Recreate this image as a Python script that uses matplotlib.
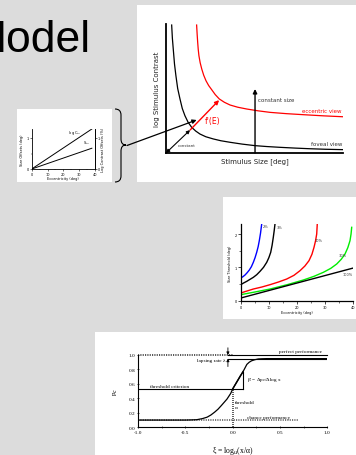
import numpy as np
import matplotlib
matplotlib.use("Agg")
import matplotlib.pyplot as plt
from matplotlib.patches import Rectangle, PathPatch
from matplotlib.path import Path

W, H = 356, 456

# --- top panel: contrast vs size ---
fov_size = [0.32, 0.36, 0.41, 0.48, 0.56, 0.66, 0.79, 0.92, 1.07, 1.25, 1.45,
            1.68, 1.92, 2.25, 2.67, 3.1, 3.62, 4.3, 5.03, 5.7, 6.44, 7.3,
            8.14, 9.0, 10.0]
fov_con = [9.92, 8.9, 8.06, 6.9, 5.99, 5.0, 4.19, 3.45, 2.89, 2.38, 1.99,
           1.7, 1.47, 1.26, 1.09, 0.95, 0.83, 0.69, 0.57, 0.5, 0.44, 0.38,
           0.33, 0.29, 0.26]
ecc_size = [1.73, 1.76, 1.79, 1.82, 1.86, 1.93, 2.02, 2.13, 2.26, 2.41, 2.58,
            2.78, 3.01, 3.3, 3.62, 4.05, 4.56, 5.2, 5.88, 6.8, 7.76, 8.9, 10.0]
ecc_con = [9.92, 9.2, 8.58, 8.05, 7.54, 7.0, 6.51, 6.03, 5.60, 5.23, 4.91,
           4.53, 4.19, 3.93, 3.72, 3.55, 3.41, 3.27, 3.15, 3.05, 2.97, 2.88,
           2.81]

# --- inset: offsets vs eccentricity ---
inset_ecc = [0, 38]
log_cth = [0, 1.29]
s_th = [0, 0.67]

# --- middle panel: size threshold vs eccentricity ---
thr_labels = ["2%", "3%", "10%", "30%", "100%"]
thr_colors = ["#0000ff", "black", "#ff0000", "#00ee00", "black"]
thr_ecc = [
    [0, 0.8, 1.53, 2.3, 3.06, 3.8, 4.48, 5.1, 5.68, 6.2, 6.61, 7.05, 7.46],
    [0, 1.0, 2.13, 3.3, 4.48, 5.7, 6.86, 8.1, 9.24, 10.0, 10.66, 11.15,
     11.58, 11.9, 12.18],
    [0, 2.2, 4.48, 7.5, 10.41, 13.4, 16.34, 18.9, 21.07, 22.8, 24.26, 25.3,
     26.04, 26.6, 27.0, 27.2],
    [0, 5, 10.41, 16.5, 22.24, 26.0, 29.34, 32.0, 34.1, 35.7, 37.05, 38.05,
     38.83, 39.2, 39.43],
    [0, 40],
]
thr_val = [
    [0.68, 0.72, 0.77, 0.84, 0.92, 1.02, 1.15, 1.29, 1.45, 1.62, 1.80, 2.03,
     2.30],
    [0.48, 0.53, 0.58, 0.64, 0.70, 0.78, 0.88, 1.0, 1.15, 1.29, 1.45, 1.66,
     1.90, 2.1, 2.30],
    [0.23, 0.29, 0.35, 0.41, 0.48, 0.56, 0.65, 0.76, 0.90, 1.04, 1.20, 1.39,
     1.60, 1.80, 2.0, 2.3],
    [0.18, 0.26, 0.35, 0.48, 0.62, 0.73, 0.85, 0.97, 1.10, 1.24, 1.40, 1.59,
     1.80, 2.0, 2.20],
    [0.08, 0.98],
]
thr_label_pos = [(8.0, 2.2), (12.8, 2.17), (26.4, 1.8), (34.7, 1.35), (36.3, 0.78)]

# --- bottom panel: psychometric function ---
xi = [-1.0, -0.75, -0.5, -0.44, -0.38, -0.32, -0.27, -0.23, -0.19, -0.155,
      -0.12, -0.09, -0.06, -0.04, -0.02, 0.0, 0.02, 0.04, 0.06, 0.08, 0.11,
      0.13, 0.15, 0.175, 0.20, 0.235, 0.27, 0.31, 0.36, 1.0]
pc = [0.1, 0.1, 0.1, 0.102, 0.105, 0.12, 0.14, 0.17, 0.21, 0.25,
      0.30, 0.345, 0.39, 0.43, 0.47, 0.53, 0.575, 0.62, 0.665, 0.71, 0.77,
      0.82, 0.87, 0.90, 0.92, 0.935, 0.945, 0.948, 0.95, 0.95]
chance = 0.1
criterion = 0.53
lapse_level = 0.95
slope_x = 0.11
slope_top = 0.77


def box(l, t, r, b):
    return [l / W, 1 - b / H, (r - l) / W, (b - t) / H]


def fpt(x, y):
    return (x / W, 1 - y / H)


fig = plt.figure(figsize=(W / 100, H / 100), dpi=100, facecolor="#dcdcdc")

# white panels
for l, t, r, b in [(137, 6, 356, 183), (17, 110, 112, 183),
                   (223, 198, 356, 320), (95, 333, 356, 456)]:
    fig.add_artist(Rectangle(fpt(l, b), (r - l) / W, (b - t) / H,
                             transform=fig.transFigure, facecolor="white",
                             edgecolor="none", zorder=0))

fig.text(-31 / W, 1 - 52 / H, "Model", fontsize=32, family="Liberation Sans",
         va="baseline", ha="left")

# ---------------- top main panel ----------------
sans = "DejaVu Sans"
ax = fig.add_axes(box(166, 25, 343, 154))
ax.set_xlim(0, 10)
ax.set_ylim(0, 10)
ax.patch.set_alpha(0)
for s in ["top", "right"]:
    ax.spines[s].set_visible(False)
for s in ["left", "bottom"]:
    ax.spines[s].set_linewidth(1.3)
ax.set_xticks([])
ax.set_yticks([])
ax.plot(fov_size, fov_con, color="black", lw=0.9)
ax.plot(ecc_size, ecc_con, color="red", lw=0.9)
ax.annotate("", xy=(1.36, 1.78), xytext=(0, 0),
            arrowprops=dict(arrowstyle="<|-|>", color="black", lw=0.8,
                            mutation_scale=5, shrinkA=0, shrinkB=0))
ax.annotate("", xy=(3.0, 4.1), xytext=(1.36, 1.78),
            arrowprops=dict(arrowstyle="-|>", color="red", lw=1.0,
                            mutation_scale=6, shrinkA=0, shrinkB=0))
ax.annotate("", xy=(5.03, 4.96), xytext=(5.03, 0),
            arrowprops=dict(arrowstyle="-|>", color="black", lw=1.0,
                            mutation_scale=6, shrinkA=0, shrinkB=0))
ax.annotate("", xy=(1.73, 2.56), xycoords="data",
            xytext=fpt(127, 146.5), textcoords="figure fraction",
            arrowprops=dict(arrowstyle="-|>", color="black", lw=0.9,
                            mutation_scale=6, shrinkA=0, shrinkB=0),
            annotation_clip=False)
ax.text(0.68, 0.62, "constant", fontsize=3, family=sans, color="#333333",
        va="center")
ax.text(2.2, 2.5, "f'(E)", fontsize=5.5, family=sans, color="red", va="center")
ax.text(5.2, 4.13, "constant size", fontsize=4, family=sans, color="#333333",
        va="center")
ax.text(9.94, 3.26, "eccentric view", fontsize=4, family=sans, color="red",
        va="center", ha="right")
ax.text(9.94, 0.7, "foveal view", fontsize=4, family=sans, color="#333333",
        va="center", ha="right")
ax.set_xlabel("Stimulus Size [deg]", fontsize=5, family=sans, labelpad=3,
              color="#222222")
ax.set_ylabel("log Stimulus Contrast", fontsize=5, family=sans, labelpad=4,
              color="#222222")

# brace
bx = [(115, 110), (121, 110), (121, 116), (121, 140), (121, 146), (126, 146),
      (121, 146), (121, 152), (121, 177), (121, 183), (115, 183)]
codes = [Path.MOVETO, Path.CURVE3, Path.CURVE3, Path.LINETO, Path.CURVE3,
         Path.CURVE3, Path.CURVE3, Path.CURVE3, Path.LINETO, Path.CURVE3,
         Path.CURVE3]
fig.add_artist(PathPatch(Path([fpt(*p) for p in bx], codes),
                         transform=fig.transFigure, facecolor="none",
                         edgecolor="black", lw=0.8))

# ---------------- inset ----------------
tiny = 2.5
axi = fig.add_axes(box(31.7, 129.7, 95, 170))
axi.set_xlim(0, 40)
axi.set_ylim(0, 1.3)
axi.spines["top"].set_visible(False)
for s in ["left", "bottom", "right"]:
    axi.spines[s].set_linewidth(0.6)
axi.plot(inset_ecc, log_cth, color="black", lw=0.7)
axi.plot(inset_ecc, s_th, color="black", lw=0.7)
axi.text(22.9, 1.16, "log C$_{th}$", fontsize=tiny, family=sans)
axi.text(32.4, 0.82, "S$_{th}$", fontsize=tiny, family=sans)
axi.set_xticks([0, 10, 20, 30, 40])
axi.set_xticks([5, 15, 25, 35], minor=True)
axi.set_yticks([0, 1])
axi.set_yticks([0.5], minor=True)
axi.tick_params(labelsize=tiny, length=1.5, width=0.4, pad=0.5)
axi.tick_params(which="minor", length=1, width=0.3)
axi.set_xlabel("Eccentricity (deg)", fontsize=tiny, labelpad=0.5)
axi.set_ylabel("Size Offsets (deg)", fontsize=tiny, labelpad=1)
axr = axi.twinx()
axr.set_ylim(0, 1.3)
axr.set_yticks([0, 1])
axr.tick_params(labelsize=tiny, length=1.5, width=0.4, pad=0.5)
for s in ["top", "left", "bottom"]:
    axr.spines[s].set_visible(False)
axr.spines["right"].set_linewidth(0.6)
axr.set_ylabel("Log Contrast Offsets (%)", fontsize=tiny, labelpad=1)

# ---------------- middle panel ----------------
axm = fig.add_axes(box(240.7, 225, 353.3, 301.7))
axm.set_xlim(0, 40)
axm.set_ylim(0, 2.3)
for s in ["top", "right"]:
    axm.spines[s].set_visible(False)
for s in ["left", "bottom"]:
    axm.spines[s].set_linewidth(0.9)
for e, v, c, lab, pos in zip(thr_ecc, thr_val, thr_colors, thr_labels,
                             thr_label_pos):
    axm.plot(e, v, color=c, lw=1.0)
    axm.text(pos[0], pos[1], lab, fontsize=tiny, family=sans, color="#333333")
axm.set_xticks([0, 10, 20, 30, 40])
axm.set_xticks([5, 15, 25, 35], minor=True)
axm.set_yticks([0, 1, 2])
axm.set_yticks([0.5, 1.5], minor=True)
axm.tick_params(labelsize=tiny, length=2, width=0.5, pad=1)
axm.tick_params(which="minor", length=1.2, width=0.4)
axm.set_xlabel("Eccentricity (deg)", fontsize=tiny, labelpad=1)
axm.set_ylabel("Size Threshold (deg)", fontsize=tiny, labelpad=2)

# ---------------- bottom panel ----------------
serif = "Liberation Serif"
fs = 3.8
axb = fig.add_axes(box(138, 356, 327.3, 428.3))
axb.set_xlim(-1.0, 1.0)
axb.set_ylim(0, 1.0)
for s in ["top", "right"]:
    axb.spines[s].set_visible(False)
for s in ["left", "bottom"]:
    axb.spines[s].set_linewidth(0.8)
axb.set_xticks([-1.0, -0.5, 0.0, 0.5, 1.0])
axb.set_xticks([-0.75, -0.25, 0.25, 0.75], minor=True)
axb.set_yticks([0.0, 0.2, 0.4, 0.6, 0.8, 1.0])
axb.set_xticklabels(["-1.0", "-0.5", "0.0", "0.5", "1.0"])
axb.tick_params(labelsize=fs, length=2, width=0.5, pad=1, direction="inout")
axb.tick_params(which="minor", length=1.5, width=0.4, direction="inout")
for lab in axb.get_xticklabels() + axb.get_yticklabels():
    lab.set_family(serif)

# reference lines
axb.plot([-1.0, 0.0], [1.0, 1.0], color="#555555", lw=1.4, ls=(0, (0.6, 0.6)),
         clip_on=False)
axb.plot([-0.05, 1.0], [1.0, 1.0], color="black", lw=0.8, clip_on=False)
axb.plot([-1.0, 0.7], [chance, chance], color="#777777", lw=1.4,
         ls=(0, (0.6, 0.6)))
axb.plot([-1.0, slope_x], [criterion, criterion], color="black", lw=0.8)
axb.plot([slope_x, slope_x], [criterion, slope_top], color="black", lw=0.8)
axb.plot([0.0, slope_x], [criterion, slope_top], color="black", lw=1.0)
axb.plot([0.0, 0.0], [0.0, criterion], color="#444444", lw=1.2,
         ls=(0, (0.6, 0.6)))
axb.plot([-0.05, 1.0], [lapse_level, lapse_level], color="black", lw=0.8)
axb.plot(xi, pc, color="black", lw=0.9)

axb.annotate("", xy=(-0.05, 1.0), xytext=(-0.05, 1.1),
             arrowprops=dict(arrowstyle="-|>", color="black", lw=0.6,
                             mutation_scale=4, shrinkA=0, shrinkB=0),
             annotation_clip=False)
axb.annotate("", xy=(-0.05, lapse_level), xytext=(-0.05, 0.84),
             arrowprops=dict(arrowstyle="-|>", color="black", lw=0.6,
                             mutation_scale=4, shrinkA=0, shrinkB=0),
             annotation_clip=False)

axb.text(-0.08, 0.935, "lapsing rate \u03bb", fontsize=fs, family=serif,
         ha="right", va="center")
axb.text(0.94, 1.06, "perfect performance", fontsize=fs, family=serif,
         ha="right", va="center")
axb.text(-0.87, 0.57, "threshold criterion", fontsize=fs, family=serif,
         va="center")
axb.text(0.15, 0.67, "\u03b2' = \u0394p$_c$/\u0394log x", fontsize=fs,
         family=serif, va="center")
axb.text(0.02, 0.31, "threshold\n\u03b1", fontsize=fs, family=serif,
         va="center", linespacing=1.3)
axb.text(0.15, 0.14, "chance performancy", fontsize=fs, family=serif,
         va="center")
axb.set_ylabel("p$_c$", fontsize=5, family=serif)
axb.yaxis.set_label_coords(-0.095, 0.5)
axb.set_xlabel("\u03be = log$_u$(x/\u03b1)", fontsize=5.5, family=serif)
axb.xaxis.set_label_coords(0.5, -0.23)

fig.savefig("out.png", dpi=100, facecolor=fig.get_facecolor())
